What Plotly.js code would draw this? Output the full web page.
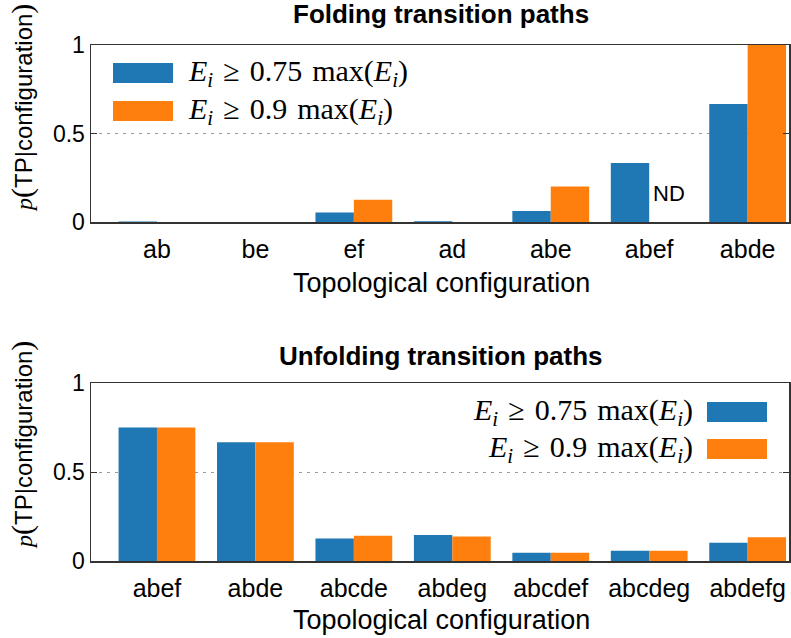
<!DOCTYPE html>
<html>
<head>
<meta charset="utf-8">
<script src="https://cdn.plot.ly/plotly-3.0.1.min.js"></script>
<style>
  html, body { margin: 0; padding: 0; background: #fff; }
  #chart { width: 791px; height: 638px; }
</style>
</head>
<body>
<div id="chart"></div>
<script>
// Folding panel
const foldCats = ['ab', 'be', 'ef', 'ad', 'abe', 'abef', 'abde'];
const foldE075 = [0.003, 0, 0.053, 0.004, 0.062, 0.333, 0.667];
const foldE090 = [0, 0, 0.125, 0, 0.2, null, 1.0];

// Unfolding panel
const unfoldCats = ['abef', 'abde', 'abcde', 'abdeg', 'abcdef', 'abcdeg', 'abdefg'];
const unfoldE075 = [0.75, 0.667, 0.127, 0.146, 0.047, 0.058, 0.103];
const unfoldE090 = [0.75, 0.667, 0.142, 0.137, 0.047, 0.058, 0.133];

const sp = '\u2004';
const seriesNames = [
    '<i>E</i><sub><i>i</i></sub>' + sp + '≥' + sp + '0.75' + sp + 'max(<i>E</i><sub><i>i</i></sub>)',
    '<i>E</i><sub><i>i</i></sub>' + sp + '≥' + sp + '0.9' + sp + 'max(<i>E</i><sub><i>i</i></sub>)'
];
const blue = '#1f77b4';
const orange = '#ff7f0e';

const W = 791, H = 638, L = 91, R = 2;
const px = x => (x - L) / (W - L - R);
const py = y => 1 - y / H;

const sansFont = 'Liberation Sans, Arial, sans-serif';
const serifFont = 'Liberation Serif, Times New Roman, serif';

const data = [
    {x: foldCats, y: foldE075, type: 'bar', marker: {color: blue}, xaxis: 'x', yaxis: 'y', showlegend: false},
    {x: foldCats, y: foldE090, type: 'bar', marker: {color: orange}, xaxis: 'x', yaxis: 'y', showlegend: false},
    {x: unfoldCats, y: unfoldE075, type: 'bar', marker: {color: blue}, xaxis: 'x2', yaxis: 'y2', showlegend: false},
    {x: unfoldCats, y: unfoldE090, type: 'bar', marker: {color: orange}, xaxis: 'x2', yaxis: 'y2', showlegend: false}
];

const xaxisBase = {
    type: 'category',
    range: [-0.67, 6.42],
    showline: true, mirror: true, linecolor: '#333', linewidth: 1.5,
    ticks: 'outside', ticklen: 4, tickcolor: 'rgba(0,0,0,0)',
    showgrid: false, zeroline: false,
    tickfont: {family: sansFont, size: 25, color: '#000'}
};
const yaxisBase = {
    range: [0, 1],
    tickvals: [0, 0.5, 1], ticktext: ['0', '0.5', '1'],
    showline: true, mirror: 'ticks', linecolor: '#333', linewidth: 1.5,
    ticks: 'inside', ticklen: 6, tickcolor: '#333',
    showgrid: true, gridcolor: '#999', gridwidth: 1, griddash: '3px,5px',
    zeroline: false,
    tickfont: {family: sansFont, size: 23, color: '#000'}
};

const ytitle = '<span style="font-family:' + serifFont + '"><i>p</i></span>' +
    '<span style="font-family:' + serifFont + ';font-size:30px">(</span>TP|configuration' +
    '<span style="font-family:' + serifFont + ';font-size:30px">)</span>';

const note = (text, x, y, size, family, extra) => Object.assign({
    text: text, x: x, y: y, xref: 'paper', yref: 'paper',
    xanchor: 'center', yanchor: 'middle', showarrow: false,
    font: {family: family, size: size, color: '#000'}
}, extra || {});

const annotations = [
    note('<b>Folding transition paths</b>', px(441), py(14), 26, sansFont),
    note('<b>Unfolding transition paths</b>', px(441), py(356), 26, sansFont),
    note('Topological configuration', px(441), py(283), 27, sansFont),
    note('Topological configuration', px(441), py(620), 27, sansFont),
    note(ytitle, px(22), py(108), 24, sansFont, {textangle: -90}),
    note(ytitle, px(22), py(445), 24, sansFont, {textangle: -90}),
    {text: 'ND', x: 'abef', y: 0.16, xref: 'x', yref: 'y', xshift: 20, yanchor: 'middle', showarrow: false,
     font: {family: sansFont, size: 22, color: '#000'}},
    // top legend labels
    note(seriesNames[0], px(186), py(73), 30, serifFont, {xanchor: 'left'}),
    note(seriesNames[1], px(186), py(111), 30, serifFont, {xanchor: 'left'}),
    // bottom legend labels
    note(seriesNames[0], px(695), py(412), 30, serifFont, {xanchor: 'right'}),
    note(seriesNames[1], px(695), py(449), 30, serifFont, {xanchor: 'right'})
];

const swatch = (x0, y0, x1, y1, color) => ({
    type: 'rect', xref: 'paper', yref: 'paper',
    x0: px(x0), x1: px(x1), y0: py(y1), y1: py(y0),
    fillcolor: color, line: {width: 0}
});

const shapes = [
    swatch(113, 63, 173, 83, blue),
    swatch(113, 101, 173, 121, orange),
    swatch(707, 402, 767, 422, blue),
    swatch(707, 439, 767, 459, orange)
];

const layout = {
    width: W, height: H,
    margin: {l: L, r: R, t: 0, b: 0},
    paper_bgcolor: '#fff', plot_bgcolor: '#fff',
    barmode: 'group', bargap: 0.22, bargroupgap: 0,
    showlegend: false,
    xaxis: Object.assign({}, xaxisBase, {domain: [0, 1], anchor: 'y'}),
    yaxis: Object.assign({}, yaxisBase, {domain: [py(222), py(45)], anchor: 'x'}),
    xaxis2: Object.assign({}, xaxisBase, {domain: [0, 1], anchor: 'y2'}),
    yaxis2: Object.assign({}, yaxisBase, {domain: [py(561), py(383)], anchor: 'x2'}),
    annotations: annotations,
    shapes: shapes
};

Plotly.newPlot('chart', data, layout, {displayModeBar: false, staticPlot: true});
</script>
</body>
</html>
